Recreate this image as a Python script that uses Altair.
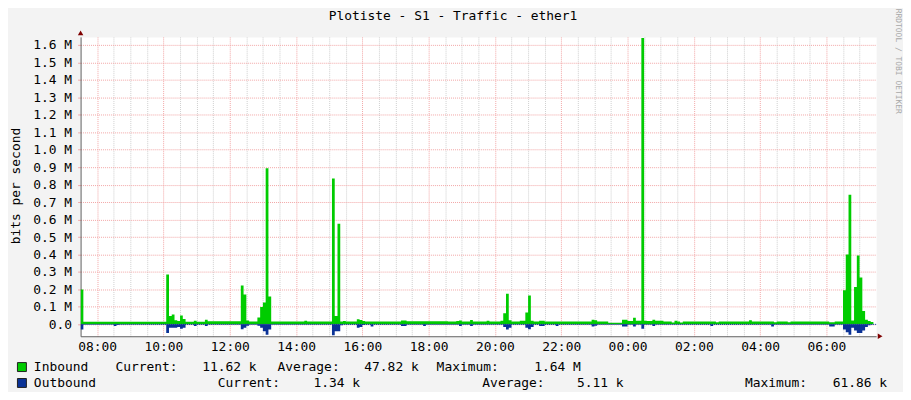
import altair as alt
import pandas as pd

# ---- data (5-minute samples starting 07:30) ----
START_MIN = 450          # 07:30, minutes after midnight
STEP_MIN = 5

INBOUND_K = [
    200, 15, 15, 15, 15, 15, 15, 15, 15, 15, 15, 15,
    15, 15, 15, 15, 15, 15, 15, 15, 15, 15, 15, 15,
    15, 15, 15, 15, 15, 15, 15, 285, 48, 57, 23, 19,
    51, 30, 15, 15, 15, 20, 15, 15, 15, 26, 18, 18,
    18, 18, 18, 18, 18, 18, 18, 18, 18, 18, 222, 171,
    22, 16, 16, 16, 40, 100, 125, 894, 160, 16, 16, 16,
    16, 16, 16, 16, 16, 16, 16, 16, 16, 20, 16, 16,
    16, 16, 16, 16, 16, 16, 16, 835, 48, 576, 17, 19,
    16, 16, 16, 16, 29, 25, 19, 16, 16, 16, 16, 16,
    16, 16, 16, 16, 16, 16, 16, 16, 22, 22, 18, 18,
    18, 18, 18, 18, 18, 18, 18, 18, 18, 18, 18, 18,
    18, 16, 16, 16, 19, 22, 16, 16, 16, 25, 16, 16,
    16, 16, 16, 21, 16, 16, 16, 16, 21, 63, 176, 23,
    16, 16, 16, 21, 21, 68, 165, 21, 16, 16, 21, 21,
    16, 16, 16, 16, 16, 16, 16, 16, 16, 16, 16, 16,
    16, 16, 16, 16, 16, 26, 23, 16, 16, 16, 16, 9,
    9, 9, 9, 9, 27, 27, 19, 19, 38, 20, 20, 1640,
    20, 19, 19, 26, 21, 21, 21, 17, 16, 16, 11, 20,
    16, 10, 16, 16, 16, 16, 16, 16, 16, 16, 16, 16,
    16, 16, 12, 16, 16, 16, 16, 16, 16, 16, 16, 16,
    16, 16, 23, 16, 16, 16, 16, 16, 16, 16, 16, 12,
    16, 16, 16, 16, 12, 16, 16, 16, 16, 16, 16, 16,
    16, 16, 16, 16, 16, 16, 16, 12, 12, 16, 16, 16,
    195, 400, 742, 22, 214, 395, 268, 76, 27, 19, 14, 12,
]

OUTBOUND_K = [
    30, 1.3, 1.3, 1.3, 1.3, 1.3, 1.3, 1.3, 1.3, 1.3, 1.3, 1.3,
    10, 3, 1.3, 1.3, 1.3, 1.3, 1.3, 1.3, 1.3, 1.3, 1.3, 1.3,
    1.3, 1.3, 1.3, 1.3, 1.3, 1.3, 1.3, 50, 20, 20, 20, 15,
    25, 20, 1.3, 1.3, 1.3, 10, 1.3, 1.3, 1.3, 10, 1.3, 1.3,
    1.3, 1.3, 1.3, 1.3, 1.3, 1.3, 1.3, 1.3, 1.3, 1.3, 28, 20,
    8, 1.3, 1.3, 1.3, 8, 20, 40, 60, 30, 1.3, 1.3, 1.3,
    1.3, 1.3, 1.3, 1.3, 1.3, 1.3, 1.3, 1.3, 1.3, 1.3, 1.3, 1.3,
    1.3, 1.3, 1.3, 1.3, 1.3, 1.3, 1.3, 61.9, 40, 40, 5, 1.3,
    1.3, 1.3, 1.3, 1.3, 20, 15, 3, 1.3, 1.3, 12, 1.3, 1.3,
    1.3, 1.3, 1.3, 1.3, 1.3, 1.3, 1.3, 1.3, 10, 10, 1.3, 1.3,
    1.3, 1.3, 1.3, 1.3, 10, 1.3, 1.3, 1.3, 1.3, 1.3, 1.3, 1.3,
    1.3, 1.3, 1.3, 1.3, 1.3, 10, 1.3, 1.3, 1.3, 10, 1.3, 1.3,
    1.3, 1.3, 1.3, 1.3, 1.3, 1.3, 1.3, 1.3, 1.3, 15, 30, 20,
    1.3, 1.3, 1.3, 1.3, 1.3, 20, 28, 15, 1.3, 1.3, 10, 10,
    1.3, 1.3, 1.3, 1.3, 10, 1.3, 1.3, 1.3, 1.3, 1.3, 1.3, 1.3,
    1.3, 1.3, 1.3, 1.3, 1.3, 12, 8, 1.3, 1.3, 1.3, 1.3, 1.3,
    1.3, 1.3, 1.3, 1.3, 12, 12, 1.3, 1.3, 12, 1.3, 1.3, 25,
    1.3, 1.3, 1.3, 10, 1.3, 1.3, 1.3, 1.3, 1.3, 1.3, 1.3, 1.3,
    1.3, 1.3, 1.3, 1.3, 1.3, 1.3, 1.3, 1.3, 1.3, 1.3, 1.3, 1.3,
    10, 1.3, 1.3, 1.3, 1.3, 1.3, 1.3, 1.3, 1.3, 1.3, 1.3, 1.3,
    1.3, 1.3, 1.3, 1.3, 1.3, 1.3, 1.3, 1.3, 1.3, 1.3, 12, 1.3,
    1.3, 1.3, 1.3, 1.3, 1.3, 1.3, 1.3, 1.3, 1.3, 1.3, 1.3, 1.3,
    1.3, 1.3, 1.3, 1.3, 1.3, 1.3, 1.3, 12, 12, 1.3, 1.3, 1.3,
    30, 45, 60, 20, 35, 50, 50, 35, 15, 5, 1.3, 1.3,
]

Y_TICKS_M = [0.0, 0.1, 0.2, 0.3, 0.4, 0.5, 0.6, 0.7, 0.8, 0.9, 1.0,
             1.1, 1.2, 1.3, 1.4, 1.5, 1.6]

TITLE = "Plotiste - S1 - Traffic - ether1"
Y_TITLE = "bits per second"
WATERMARK = "RRDTOOL / TOBI OETIKER"
SERIES = ["Inbound", "Outbound"]
STAT_INBOUND = ["11.62 k", "47.82 k", "1.64 M"]
STAT_OUTBOUND = ["1.34 k", "5.11 k", "61.86 k"]

GREEN = "#00CC00"
BLUE = "#0A3296"
MONO = "DejaVu Sans Mono"
RED_GRID = "#F2A6A6"
GRAY_GRID = "#CFCFCF"

df = pd.DataFrame({
    "t": [START_MIN + STEP_MIN * i for i in range(len(INBOUND_K))],
    "inb": [v * 1000 for v in INBOUND_K],
    "outb": [-v * 1000 for v in OUTBOUND_K],
})

x_ticks = list(range(480, 1890, 30))
x_scale = alt.Scale(domain=[450, 1890], nice=False, zero=False)
x_axis = alt.Axis(
    values=x_ticks,
    labelExpr="datum.value % 120 == 0 ? ((floor(datum.value/60) % 24 < 10 ? '0' : '') + (floor(datum.value/60) % 24) + ':00') : ''",
    title=None,
    grid=True,
    gridColor={"condition": {"test": "datum.value % 120 == 0", "value": RED_GRID}, "value": GRAY_GRID},
    gridDash=[1, 1],
    ticks=False,
    labelPadding=4,
    labelFont=MONO,
    labelFontSize=13,
    labelColor="#000000",
    domainColor="#606060",
    labelFlush=False,
    labelOverlap=False,
)
y_scale = alt.Scale(domain=[-68000, 1646000], nice=False, zero=False)
y_axis = alt.Axis(
    values=[round(v * 1e6) for v in Y_TICKS_M],
    labelExpr="datum.value == 0 ? '0.0' : format(datum.value / 1000000, '.1f') + ' M'",
    title=None,
    grid=True,
    gridColor=RED_GRID,
    gridDash=[1, 1],
    tickSize=3,
    tickColor=RED_GRID,
    labelPadding=6,
    labelFont=MONO,
    labelFontSize=13,
    labelColor="#000000",
    domainColor="#606060",
    labelOverlap=False,
)

base = alt.Chart(df)
inbound = base.mark_area(interpolate="step-after", color=GREEN, clip=True).encode(
    x=alt.X("t:Q", scale=x_scale, axis=x_axis),
    y=alt.Y("inb:Q", scale=y_scale, axis=y_axis),
)
outbound = base.mark_area(interpolate="step-after", color=BLUE, clip=True).encode(
    x=alt.X("t:Q", scale=x_scale, axis=x_axis),
    y=alt.Y("outb:Q", scale=y_scale, axis=y_axis),
)
zero_rule = alt.Chart(pd.DataFrame({"z": [0]})).mark_rule(
    color=BLUE, strokeDash=[1, 1], strokeWidth=1
).encode(y=alt.Y("z:Q", scale=y_scale, axis=y_axis))

one = pd.DataFrame({"k": [0]})


def txt(s, x, y, size=13, align="left", color="#000000", angle=0):
    return alt.Chart(one).mark_text(
        text=s, align=align, baseline="middle", font=MONO, fontSize=size,
        color=color, angle=angle,
    ).encode(x=alt.value(x), y=alt.value(y))


def square(color, y):
    return alt.Chart(one).mark_square(
        size=81, color=color, filled=True, opacity=1, stroke="#202020", strokeWidth=1
    ).encode(x=alt.value(-59), y=alt.value(y))


def arrow(shape, x, y):
    return alt.Chart(one).mark_point(
        shape=shape, filled=True, size=30, color="#7F0000", opacity=1
    ).encode(x=alt.value(x), y=alt.value(y))


layers = [
    inbound, outbound, zero_rule,
    txt(TITLE, 374.5, -21.5, align="center"),
    txt(Y_TITLE, -65, 150, align="center", angle=270),
    txt(WATERMARK, 821.5, 24.5, size=8, align="center", color="#A8A8A8", angle=90),
    arrow("triangle-up", 0, -4),
    arrow("triangle-right", 804, 301),
    square(GREEN, 332), square(BLUE, 348),
    txt(SERIES[0], -47, 332), txt(SERIES[1], -47, 348),
    txt("Current:", 35, 332), txt(STAT_INBOUND[0], 177, 332, align="right"),
    txt("Average:", 198, 332), txt(STAT_INBOUND[1], 340, 332, align="right"),
    txt("Maximum:", 358, 332), txt(STAT_INBOUND[2], 503, 332, align="right"),
    txt("Current:", 138, 348), txt(STAT_OUTBOUND[0], 281, 348, align="right"),
    txt("Average:", 404, 348), txt(STAT_OUTBOUND[1], 546, 348, align="right"),
    txt("Maximum:", 668, 348), txt(STAT_OUTBOUND[2], 811, 348, align="right"),
]

chart = alt.layer(*layers).properties(
    width=800,
    height=301,
    autosize=alt.AutoSizeParams(type="none"),
    padding={"left": 73, "top": 28, "right": 27, "bottom": 55},
    background="#F3F3F3",
).configure_view(fill="#FFFFFF", stroke="transparent")

chart.save("out.html", embed_options={"renderer": "svg", "actions": False})
